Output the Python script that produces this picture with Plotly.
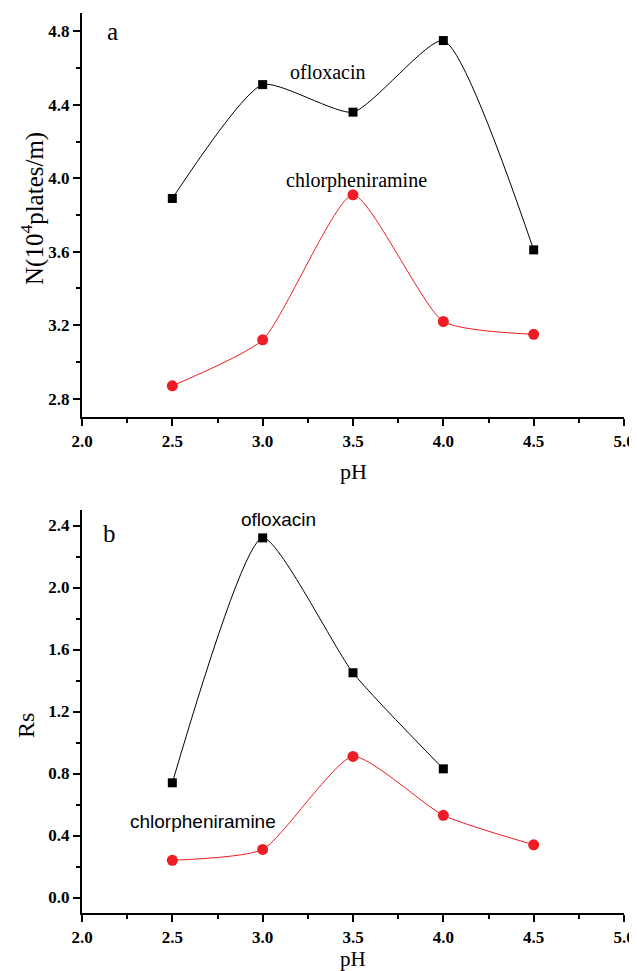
import plotly.graph_objects as go

ph = [2.5, 3.0, 3.5, 4.0, 4.5]
ph_b_oflox = [2.5, 3.0, 3.5, 4.0]

n_ofloxacin = [3.89, 4.51, 4.36, 4.75, 3.61]
n_chlor = [2.87, 3.12, 3.91, 3.22, 3.15]

rs_ofloxacin = [0.74, 2.32, 1.45, 0.83]
rs_chlor = [0.24, 0.31, 0.91, 0.53, 0.34]

x_ticks = [2.0, 2.5, 3.0, 3.5, 4.0, 4.5, 5.0]
y_ticks_a = [2.8, 3.2, 3.6, 4.0, 4.4, 4.8]
y_ticks_b = [0.0, 0.4, 0.8, 1.2, 1.6, 2.0, 2.4]

SERIF = "Liberation Serif"
SANS = "Liberation Sans"
BLACK = "#000000"
RED = "#ee1c24"

# the page body has an 8px default margin; size the figure to fill the window
OFF = 8
W, H = 637 - OFF, 971 - OFF
L, R, T, B = 82 - OFF, 13, 13 - OFF, 58

fig = go.Figure()

def add_series(x, y, color, symbol, size, xa, ya):
    fig.add_trace(go.Scatter(
        x=x, y=y, mode="lines+markers", xaxis=xa, yaxis=ya,
        line=dict(color=color, width=1, shape="spline", smoothing=0.55),
        marker=dict(symbol=symbol, size=size, color=color),
        showlegend=False,
    ))

add_series(ph, n_ofloxacin, BLACK, "square", 9, "x", "y")
add_series(ph, n_chlor, RED, "circle", 11, "x", "y")
add_series(ph_b_oflox, rs_ofloxacin, BLACK, "square", 9, "x2", "y2")
add_series(ph, rs_chlor, RED, "circle", 11, "x2", "y2")

tickfont = dict(family=SERIF, size=17, color=BLACK, weight="bold")

def xaxis(domain_anchor):
    return dict(
        range=[2.0, 5.0], tickvals=x_ticks,
        ticktext=[f"{v:.1f}" for v in x_ticks],
        ticks="outside", ticklen=7, tickwidth=1.5, tickcolor=BLACK,
        ticklabelstandoff=1, automargin=False,
        minor=dict(dtick=0.25, tick0=2.0, ticks="outside", ticklen=4, tickwidth=1.5, tickcolor=BLACK),
        showline=True, linecolor=BLACK, linewidth=2, mirror=False,
        showgrid=False, zeroline=False, tickfont=tickfont,
        anchor=domain_anchor,
    )

def yaxis(rng, vals, dom, anchor):
    return dict(
        range=rng, tickvals=vals, ticktext=[f"{v:.1f}" for v in vals],
        domain=dom, anchor=anchor, automargin=False,
        ticks="outside", ticklen=7, tickwidth=1.5, tickcolor=BLACK,
        minor=dict(dtick=0.2, tick0=vals[0], ticks="outside", ticklen=4, tickwidth=1.5, tickcolor=BLACK),
        showline=True, linecolor=BLACK, linewidth=2, mirror=False,
        showgrid=False, zeroline=False, tickfont=tickfont,
    )

PH = H - T - B  # plot-area height in px
def ydom(top_px, bottom_px):
    # screen pixel rows -> paper fractions
    return [(H - B - (bottom_px - OFF)) / PH, (H - B - (top_px - OFF)) / PH]

fig.update_layout(
    width=W, height=H,
    margin=dict(l=L, r=R, t=T, b=B, autoexpand=False),
    paper_bgcolor="white", plot_bgcolor="white",
    xaxis=xaxis("y"),
    yaxis=yaxis([2.7, 4.9], y_ticks_a, ydom(13, 417), "x"),
    xaxis2=xaxis("y2"),
    yaxis2=yaxis([-0.1, 2.5], y_ticks_b, ydom(510, 913), "x2"),
)

# axis titles placed in screen pixel coordinates (converted to paper fractions below)
pixel_texts = [
    dict(text="N(10<sup>4</sup>plates/m)", x=33, y=209, textangle=-90, font=dict(family=SERIF, size=25, color=BLACK)),
    dict(text="Rs", x=26, y=726, textangle=-90, font=dict(family=SERIF, size=24, color=BLACK)),
    dict(text="pH", x=353, y=471, font=dict(family=SERIF, size=22, color=BLACK)),
    dict(text="pH", x=353, y=959, font=dict(family=SERIF, size=21, color=BLACK)),
]
for a in pixel_texts:
    a["x"] = (a["x"] - OFF - L) / (W - L - R)
    a["y"] = (H - B - (a["y"] - OFF)) / PH
    a.update(xref="paper", yref="paper")

data_texts = [
    dict(text="a", x=2.17, y=4.8, xref="x", yref="y", font=dict(family=SERIF, size=25, color=BLACK)),
    dict(text="ofloxacin", x=3.36, y=4.58, xref="x", yref="y", font=dict(family=SERIF, size=20, color=BLACK)),
    dict(text="chlorpheniramine", x=3.52, y=3.99, xref="x", yref="y", font=dict(family=SERIF, size=20, color=BLACK)),
    dict(text="b", x=2.15, y=2.35, xref="x2", yref="y2", font=dict(family=SERIF, size=25, color=BLACK)),
    dict(text="ofloxacin", x=3.09, y=2.44, xref="x2", yref="y2", font=dict(family=SANS, size=19, color=BLACK)),
    dict(text="chlorpheniramine", x=2.67, y=0.49, xref="x2", yref="y2", font=dict(family=SANS, size=19, color=BLACK)),
]
annotations = pixel_texts + data_texts
for a in annotations:
    a.update(showarrow=False, xanchor="center", yanchor="middle")
fig.update_layout(annotations=annotations)

fig.write_html("out.html")
